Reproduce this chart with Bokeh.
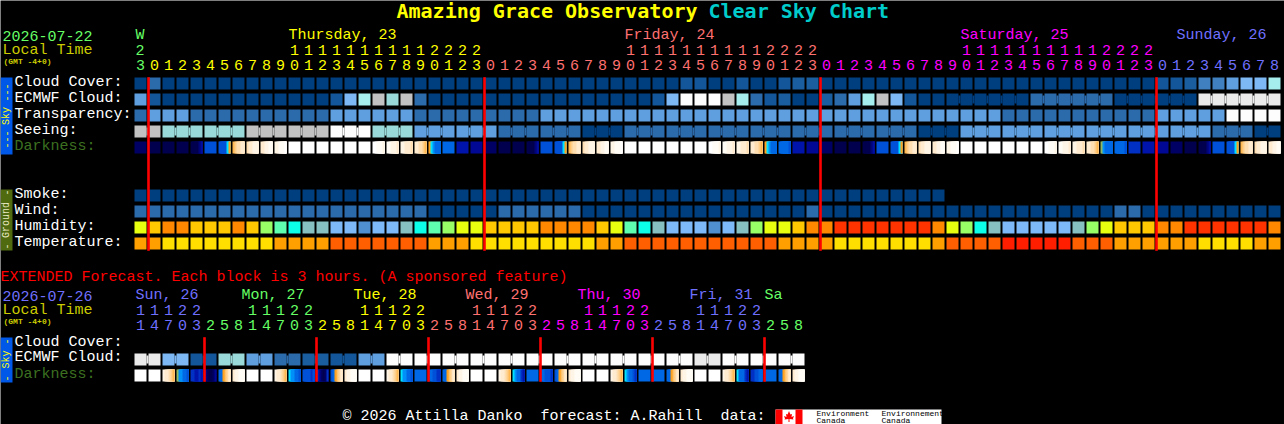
from math import pi
from bokeh.plotting import figure
from bokeh.models import Range1d, ColumnDataSource
from bokeh.core.properties import value
from bokeh.embed import file_html
from bokeh.resources import INLINE

# ---------------- data ----------------
HOURS = [23] + list(range(24)) * 3 + list(range(9))
HOUR_DAY = [0] + [1] * 24 + [2] * 24 + [3] * 24 + [4] * 9
DAY_COLORS = ["#66FF66", "#FFFF00", "#FF7070", "#FF00FF", "#7070FF"]
EXT_HOURS = [11, 14, 17, 20, 23] + [2, 5, 8, 11, 14, 17, 20, 23] * 5 + [2, 5, 8]
EXT_DAY = [4] * 5 + [0] * 8 + [1] * 8 + [2] * 8 + [3] * 8 + [4] * 8 + [0] * 3

SKY = ["#003F7F", "#13569A", "#2C6BAB", "#4080C0", "#5F9FE0", "#7DB8F5",
       "#A6EEEE", "#C2C2C2", "#EAEAEA", "#FDFDFD", "#99D9D9", "#1B5E9F"]
HUM = ["#E9FF10", "#FFC800", "#FF8800", "#99FF66", "#5FFFB0", "#0CFFE8",
       "#86C0C0", "#7DB8F8", "#4F90D0", "#FF3300"]
TEMP = ["#FF9F00", "#FFDF00", "#FF5F00", "#FF1F00"]
DARK = dict(W="#FFFFFF", a="#FFFCF6", b="#FFF5E6", c="#FFEBD0", d="#FFDFB2", e="#FFCE88",
            f="#FFB852", g="#FFA01E", C="#00E0FF", G="#8CB864", T="#0090F8", L="#0068E4",
            M="#0050D8", N="#0030C4", O="#0014AC", P="#000894", Q="#000478", R="#000064",
            S="#00004E")

cloud_cover = [0, 2] + [0] * 37 + [1, 1, 0, 0, 1, 0, 0, 1, 11, 11] + [0] * 24 + [1, 1, 11, 3, 3, 4, 5, 5, 6]
ecmwf = ([4, 1] + [0] * 12 + [1, 5, 6, 7, 10, 7, 2] + [0] * 16 +
         [1, 5, 9, 9, 9, 7, 6, 2, 1, 11, 0, 0, 11, 2, 4, 6, 7, 5, 1, 0, 0] +
         [0] * 6 + [2] * 6 + [0] * 6 + [8] * 6)
ecmwf_spans = [1] * 58 + [6, 6, 6, 6]
transparency = [2] + [4] * 3 + [2] * 10 + [4] * 6 + [2] * 9 + [4] * 33 + [2] * 11 + [4] * 5 + [9] * 4
seeing = ([7] * 2 + [10] * 6 + [7] * 6 + [9] * 3 + [10] * 3 + [4] * 6 + [2] * 6 + [0] * 3 +
          [2] * 21 + [0] * 3 + [4] * 18 + [2] * 3 + [0] * 2)
seeing_spans = [2] + [3] * 26 + [2]
smoke = [0] * 58
wind = [2] * 21 + [0] * 5 + [2] * 6 + [0] * 16 + [2] + [0] * 21 + [2, 2] + [0] * 10
humidity = [0, 1, 2, 2, 1, 1, 1, 2, 1, 3, 4, 5, 6, 6, 7, 7, 8, 7, 7, 6, 5,
            4, 3, 0, 0, 1, 1, 1, 1, 2, 2, 2, 2, 1, 0, 4, 5, 6, 7, 7, 7, 8, 7, 6, 3, 0, 0, 1, 2, 2, 9, 9,
            9, 9, 9, 9, 9, 2, 0, 3, 5, 6, 7, 7, 7, 7, 7, 6, 3, 0, 1, 1, 1, 2, 2, 9, 9, 9, 9, 9, 9, 2]
temperature = ([0, 0] + [1] * 8 + [0] * 4 + [2] * 7 + [0] * 3 + [1] * 9 + [0] * 2 + [2] * 11 +
               [0] * 4 + [1] * 7 + [0] + [2] * 4 + [3] * 5 + [2] * 3 + [0] * 6 + [1] * 4 + [0] * 2)

TAIL, TW_E = "SSSSSSSSQQPO", "MMMMMMMMCCgg"
darkness = (["R", "S", "S", "S", TAIL, "M", TW_E, "feddcc", "dccbbb", "ccbbaa", "bbaaaW"] + ["W"] * 6 +
            ["WWaaab", "aabbbc", "bbcccd", "ccddef", "ggCCTTLLLLLL", "L", "O", "P", "R", "S", "S", TAIL,
             "M", TW_E, "feddcc", "dccbbb", "ccbbaa", "bbaaaW"] + ["W"] * 6 +
            ["WWaaab", "aabbbc", "bbcccd", "ccddef", "ggCCTTLLLLLL", "LLLLLLLLLLMM", "O", "P", "R", "S", "S", TAIL,
             "M", TW_E, "feddcc", "dccbbb", "ccbbaa", "bbaaaW"] + ["W"] * 6 +
            ["WWaaab", "aabbbc", "bbcccd", "ccddef", "GGTTLLLLLLLL", "LLLLLLLLLLMM", "N", "O", "P", "R", "S", TAIL,
             "M", TW_E, "feddcc", "dccbbb", "ccbbaa"])

ext_ecmwf = [8, 5, 1, 10, 4, 2, 11, 1, 4] + [9] * 11 + [8] + [9] * 3
ext_spans = [2] * 24
ext_darkness = ["W", "W", "bccdef", "GGTTTTLLLLMM", "NNOONO", "PRSSRP", "LLLLggfeedcc", "cbbaaa",
                "W", "W", "bccdef", "CCTTTTLLLLMM", "MMMMMMMMNNMM", "NPRSRN", "MMLLggfeedcc", "cbbaaa",
                "W", "W", "bccdef", "CCTTTTLLLLMM", "L", "LLMMNN", "LLLLggfeedcc", "cbbaaa",
                "W", "W", "bccdef", "CCTTLLLLNNOO", "L", "LLLLMMMMMMNN", "MMLLggfeedcc", "cbbaaa",
                "W", "W", "bccdef", "CCTTLLLLMMNN", "L", "L", "LLLLggfeedcc", "cbbaaa",
                "W", "W", "bccdef", "CCLLLLLLNNOO", "NNMMLL", "L", "LLLLggfeedcc", "cbbaaa"]

assert len(HOURS) == len(HOUR_DAY) == 82 and len(EXT_HOURS) == len(EXT_DAY) == 48
for r in (cloud_cover, ecmwf, transparency, seeing, wind, humidity, temperature, darkness):
    assert len(r) == 82, len(r)
assert sum(seeing_spans) == 82 and sum(ecmwf_spans) == 82
assert len(ext_ecmwf) == 24 and len(ext_darkness) == 48

# ---------------- layout ----------------
W, H = 1284, 424
X0, PITCH, CELL = 134, 14, 12
BLACK = "#000000"
MONO = "Liberation Mono"
BASELINE_FIX = 0.38  # the page draws alphabetic text this many ems lower than asked


def hx(px):
    return (px - X0) / PITCH


p = figure(width=W, height=H, output_backend="svg", toolbar_location=None,
           x_range=Range1d(hx(0), hx(W)), y_range=Range1d(H, 0),
           min_border=0, background_fill_color=BLACK, border_fill_color=BLACK,
           outline_line_color=None)
p.axis.visible = False
p.grid.visible = False

cw = CELL / PITCH


def cells(top, idx, palette, spans=None, size=CELL):
    src = ColumnDataSource(dict(left=list(range(len(idx))),
                                right=[i + cw for i in range(len(idx))],
                                color=[palette[v] for v in idx]))
    p.quad(left="left", right="right", top=top, bottom=top + size, color="color", source=src, line_color=None)
    if spans:
        nl, nr, nc = [], [], []
        i = 0
        for s in spans:
            for k in range(i, i + s - 1):
                nl.append(k + cw)
                nr.append(k + 1)
                nc.append(palette[idx[k]])
            i += s
        if nl:
            ns = ColumnDataSource(dict(left=nl, right=nr, color=nc))
            p.quad(left="left", right="right", top=top + 2, bottom=top + size - 2, color="color",
                   source=ns, line_color=None)


def strips(top, rows):
    # each strip runs to the cell's right edge; the next one paints over it, so no seams show
    l, r, c = [], [], []
    for i, s in enumerate(rows):
        w = cw / len(s)
        for j, ch in enumerate(s):
            l.append(i + j * w)
            r.append(i + cw)
            c.append(DARK[ch])
    p.quad(left=l, right=r, top=top, bottom=top + CELL, color=c, line_color=None)


def text(x, y, s, color, size=15, font=MONO, style="normal", align="left", angle=0, baseline="alphabetic"):
    yy = y - BASELINE_FIX * size if baseline == "alphabetic" else y
    if size == 15:
        yy += 1
    p.text(x=[hx(x)], y=[yy], text=[s], text_color=color, text_font=value(font),
           text_font_size=f"{size}px", text_font_style=style, text_align=align,
           text_baseline=baseline, angle=angle)


def hour_rows(hours, days, y_tens, y_ones):
    idx = list(range(len(hours)))
    cx = [i + (CELL / 2) / PITCH for i in idx]
    col = [DAY_COLORS[d] for d in days]
    fix = BASELINE_FIX * 15
    p.text(x=cx, y=y_ones - fix, text=[str(h % 10) for h in hours], text_color=col,
           text_font=value(MONO), text_font_size="15px", text_align="center", text_baseline="alphabetic")
    t = [i for i in idx if hours[i] >= 10]
    p.text(x=[cx[i] for i in t], y=y_tens - fix, text=[str(hours[i] // 10) for i in t],
           text_color=[col[i] for i in t], text_font=value(MONO), text_font_size="15px",
           text_align="center", text_baseline="alphabetic")


# side bars
SKY_BAR, GROUND_BAR = "#0058E8", "#506A10"
p.quad(left=hx(0), right=hx(12), top=77, bottom=154, color=SKY_BAR, line_color=None)
p.quad(left=hx(0), right=hx(12), top=189, bottom=250, color=GROUND_BAR, line_color=None)
p.quad(left=hx(0), right=hx(12), top=337, bottom=382, color=SKY_BAR, line_color=None)
BAR_TXT = dict(size=10, align="center", angle=pi / 2, baseline="middle")
for y, s in [(92, "---"), (115.5, "Sky"), (139, "---")]:
    text(6, y, s, "#FFFF00", **BAR_TXT)
for y, s in [(192, "-"), (219.5, "Ground"), (246, "-")]:
    text(6, y, s, "#E8E8C0", **BAR_TXT)
for y, s in [(341, "-"), (359, "Sky"), (378, "-")]:
    text(6, y, s, "#FFFF00", **BAR_TXT)

# title
text(396, 18, "Amazing Grace Observatory", "#FFFF00", size=20, font="DejaVu Sans Mono", style="bold")
text(708, 18, "Clear Sky Chart", "#00CCCC", size=20, font="DejaVu Sans Mono", style="bold")

# header block
text(2, 40, "2026-07-22", "#66FF66")
text(2, 55, "Local Time", "#CCCC00")
text(3, 64, "(GMT -4+0)", "#CCCC00", size=8, style="bold")
for x, s, c in [(135, "W", 0), (288, "Thursday, 23", 1), (624, "Friday, 24", 2),
                (960, "Saturday, 25", 3), (1176, "Sunday, 26", 4)]:
    text(x, 40, s, DAY_COLORS[c])
text(135, 54, "2", DAY_COLORS[0])
hour_rows([h if i else 3 for i, h in enumerate(HOURS)], HOUR_DAY, 55, 70)

# row labels
for y, s in [(87, "Cloud Cover:"), (103, "ECMWF Cloud:"), (119, "Transparency:"), (135, "Seeing:"),
             (199, "Smoke:"), (215, "Wind:"), (231, "Humidity:"), (247, "Temperature:")]:
    text(14, y, s, "#FFFFFF")
text(14, 151, "Darkness:", "#3C7020")

# main rows
cells(77, cloud_cover, SKY)
cells(93, ecmwf, SKY, ecmwf_spans)
cells(109, transparency, SKY)
cells(125, seeing, SKY, seeing_spans)
strips(141, darkness)
cells(189, smoke, SKY)
cells(205, wind, SKY)
cells(221, humidity, HUM)
cells(237, temperature, TEMP)

RED = "#FF0000"
mid = [i for i, h in enumerate(HOURS) if h == 0 and i > 0]
p.quad(left=[m - 1 / PITCH for m in mid], right=[m + 1 / PITCH for m in mid], top=77, bottom=250,
       color=RED, line_color=RED, line_width=0.6)

# extended forecast
text(0, 282, "EXTENDED Forecast. Each block is 3 hours. (A sponsored feature)", RED)
text(2, 300, "2026-07-26", "#7070FF")
text(2, 315, "Local Time", "#CCCC00")
text(3, 324, "(GMT -4+0)", "#CCCC00", size=8, style="bold")
for x, s, c in [(135, "Sun, 26", 4), (241, "Mon, 27", 0), (353, "Tue, 28", 1), (465, "Wed, 29", 2),
                (577, "Thu, 30", 3), (689, "Fri, 31", 4), (764, "Sa", 0)]:
    text(x, 300, s, DAY_COLORS[c])
hour_rows(EXT_HOURS, EXT_DAY, 315, 330)
text(14, 347, "Cloud Cover:", "#FFFFFF")
text(14, 362, "ECMWF Cloud:", "#FFFFFF")
text(14, 379, "Darkness:", "#3C7020")

ext_cells = [v for v in ext_ecmwf for _ in (0, 1)]
cells(353, ext_cells, SKY, ext_spans)
strips(369, ext_darkness)
ext_mid = [i + 1 for i, h in enumerate(EXT_HOURS[:-1]) if EXT_HOURS[i + 1] < h]
p.quad(left=[m - 1 / PITCH for m in ext_mid], right=[m + 1 / PITCH for m in ext_mid], top=337, bottom=381,
       color=RED, line_color=RED, line_width=0.6)

# footer
for x, s in [(342, "\u00a9 2026 Attilla Danko"), (540, "forecast: A.Rahill"), (720, "data:")]:
    text(x, 421, s, "#FFFFFF")
p.quad(left=hx(775), right=hx(941), top=409, bottom=424, color="#FFFFFF", line_color=None)
p.quad(left=[hx(775), hx(795)], right=[hx(782), hx(802)], top=409, bottom=424, color=RED, line_color=None)
lx = [0, 1, 1.5, 3, 2.5, 5, 4, 4.5, 0.5, 0.5, -0.5, -0.5, -4.5, -4, -5, -2.5, -3, -1.5, -1]
ly = [-6, -3.5, -2.5, -3, 0, -1, 1.5, 2.5, 2, 5, 5, 2, 2.5, 1.5, -1, 0, -3, -2.5, -3.5]
p.patch([hx(788.5 + a) for a in lx], [416.5 + b for b in ly], color=RED, line_color=None)
for x, a, b in [(816, "Environment", "Canada"), (881, "Environnement", "Canada")]:
    text(x, 416, a, "#000000", size=8)
    text(x, 423, b, "#000000", size=8)

open("out.html", "w").write(file_html(p, INLINE))
